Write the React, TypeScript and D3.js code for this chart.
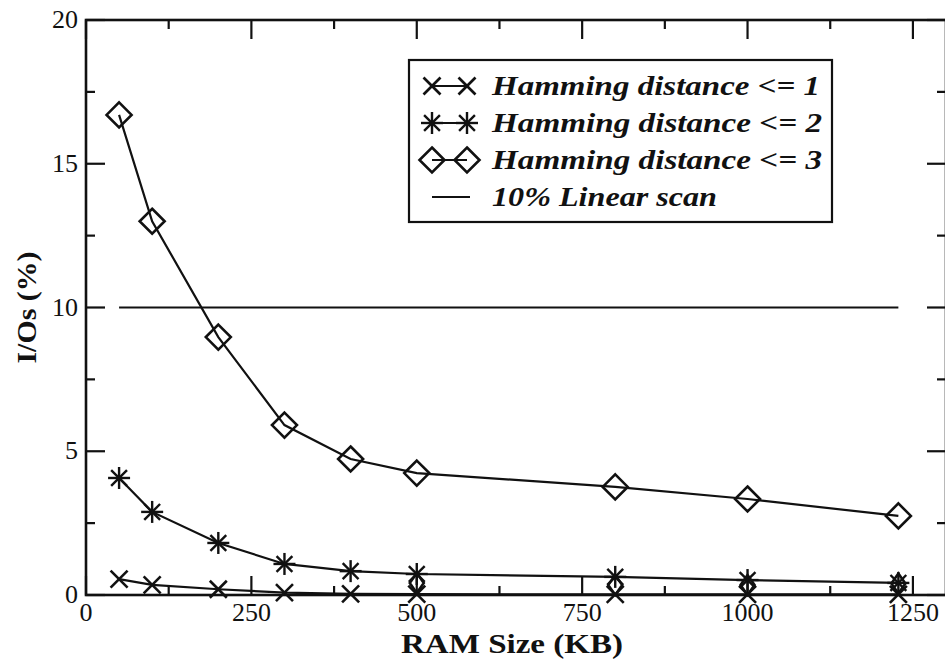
import * as d3 from 'd3';

// RAM size in KB for every measurement
const ramSizes = [50, 100, 200, 300, 400, 500, 800, 1000, 1228];
const hamming1 = [0.55, 0.35, 0.2, 0.08, 0.04, 0.03, 0.02, 0.02, 0.02];
const hamming2 = [4.07, 2.89, 1.81, 1.08, 0.83, 0.73, 0.63, 0.52, 0.42];
const hamming3 = [16.7, 13.0, 8.97, 5.91, 4.73, 4.24, 3.76, 3.34, 2.75];
// the reference line, drawn over the measured range
const scanRange = [50, 1228];
const scanValue = 10;
// stray small diamonds that show near the bottom of the print
const strayX = [500, 800, 1000, 1228];
const strayY = [0.42, 0.35, 0.35, 0.4];

const xMajor = [0, 250, 500, 750, 1000, 1250];
const xMinor = [125, 375, 625, 875, 1125];
const yMajor = [0, 5, 10, 15, 20];
const yMinor = [2.5, 7.5, 12.5, 17.5];

const legendLabels = [
  'Hamming distance <= 1',
  'Hamming distance <= 2',
  'Hamming distance <= 3',
  '10% Linear scan',
];
const legendWidths = [328, 330, 330, 225];

const W = 945;
const H = 660;
const left = 86;
const right = 946;
const top = 20;
const bottom = 595;
const font = 'Liberation Serif';
const ink = '#111';

function XMark({ x, y, r = 8.5 }: { x: number; y: number; r?: number }) {
  return (
    <g stroke={ink} strokeWidth={2.6} fill="none">
      <line x1={x - r} y1={y - r} x2={x + r} y2={y + r} />
      <line x1={x - r} y1={y + r} x2={x + r} y2={y - r} />
    </g>
  );
}

function Star({ x, y, r = 11 }: { x: number; y: number; r?: number }) {
  const d = r * 0.72;
  return (
    <g stroke={ink} strokeWidth={2.4} fill="none">
      <line x1={x} y1={y - r} x2={x} y2={y + r} />
      <line x1={x - r} y1={y} x2={x + r} y2={y} />
      <line x1={x - d} y1={y - d} x2={x + d} y2={y + d} />
      <line x1={x - d} y1={y + d} x2={x + d} y2={y - d} />
    </g>
  );
}

function Diamond({ x, y, rx = 12.5, ry = 12.5 }: { x: number; y: number; rx?: number; ry?: number }) {
  return (
    <path
      d={`M${x},${y - ry}L${x + rx},${y}L${x},${y + ry}L${x - rx},${y}Z`}
      stroke={ink}
      strokeWidth={2.6}
      fill="none"
    />
  );
}

export default function App() {
  const x = d3.scaleLinear().domain([0, 1300]).range([left, right]);
  const y = d3.scaleLinear().domain([0, 20]).range([bottom, top]);

  const line = d3
    .line<[number, number]>()
    .x(d => x(d[0]))
    .y(d => y(d[1]));

  const series = [hamming1, hamming2, hamming3].map(vals =>
    ramSizes.map((r, i) => [r, vals[i]] as [number, number])
  );

  // legend layout
  const lgX = 409;
  const lgY = 60;
  const lgW = 423;
  const lgH = 162;
  const rowBase = [95, 132, 169, 206];
  const sym1 = 432;
  const sym2 = 467;
  const textX = 492;

  return (
    <svg width={W} height={H} style={{ position: 'absolute', left: 0, top: 0, background: '#fff' }}>
      <rect width={W} height={H} fill="#fff" />

      {/* frame */}
      <rect
        x={left}
        y={top}
        width={right - left}
        height={bottom - top}
        fill="none"
        stroke={ink}
        strokeWidth={2.6}
      />

      {/* ticks, all pointing into the plot */}
      <g stroke={ink} strokeWidth={2.2}>
        {xMajor.map(v => (
          <g key={'xM' + v}>
            <line x1={x(v)} x2={x(v)} y1={bottom} y2={bottom - 19} />
            <line x1={x(v)} x2={x(v)} y1={top} y2={top + 19} />
          </g>
        ))}
        {xMinor.map(v => (
          <g key={'xm' + v}>
            <line x1={x(v)} x2={x(v)} y1={bottom} y2={bottom - 9} />
            <line x1={x(v)} x2={x(v)} y1={top} y2={top + 9} />
          </g>
        ))}
        {yMajor.map(v => (
          <g key={'yM' + v}>
            <line x1={left} x2={left + 19} y1={y(v)} y2={y(v)} />
            <line x1={right} x2={right - 19} y1={y(v)} y2={y(v)} />
          </g>
        ))}
        {yMinor.map(v => (
          <g key={'ym' + v}>
            <line x1={left} x2={left + 9} y1={y(v)} y2={y(v)} />
            <line x1={right} x2={right - 9} y1={y(v)} y2={y(v)} />
          </g>
        ))}
      </g>

      {/* tick labels */}
      {xMajor.map(v => (
        <text
          key={'xl' + v}
          x={x(v)}
          y={621}
          textAnchor="middle"
          fill={ink}
          style={{ fontFamily: font, fontSize: 26 }}
        >
          {v}
        </text>
      ))}
      {yMajor.map(v => (
        <text
          key={'yl' + v}
          x={78}
          y={y(v) + 8}
          textAnchor="end"
          fill={ink}
          style={{ fontFamily: font, fontSize: 26 }}
        >
          {v}
        </text>
      ))}

      {/* axis titles */}
      <text
        x={(left + right) / 2 - 4}
        y={653}
        textAnchor="middle"
        fill={ink}
        style={{ fontFamily: font, fontSize: 28, fontWeight: 'bold' }}
        textLength={222}
        lengthAdjust="spacingAndGlyphs"
      >
        RAM Size (KB)
      </text>
      <text
        transform={`translate(36,${(top + bottom) / 2}) rotate(-90)`}
        textAnchor="middle"
        fill={ink}
        style={{ fontFamily: font, fontSize: 28, fontWeight: 'bold' }}
        textLength={112}
        lengthAdjust="spacingAndGlyphs"
      >
        I/Os (%)
      </text>

      {/* 10% linear scan */}
      <line
        x1={x(scanRange[0])}
        x2={x(scanRange[1])}
        y1={y(scanValue)}
        y2={y(scanValue)}
        stroke={ink}
        strokeWidth={2}
      />

      {/* series lines */}
      {series.map((s, i) => (
        <path key={'s' + i} d={line(s) ?? ''} fill="none" stroke={ink} strokeWidth={2.2} />
      ))}

      {/* markers */}
      {series[0].map(([a, b], i) => (
        <XMark key={'m1' + i} x={x(a)} y={y(b)} />
      ))}
      {series[1].map(([a, b], i) => (
        <Star key={'m2' + i} x={x(a)} y={y(b)} />
      ))}
      {series[2].map(([a, b], i) => (
        <Diamond key={'m3' + i} x={x(a)} y={y(b)} />
      ))}
      {strayX.map((a, i) => (
        <Diamond key={'st' + i} x={x(a)} y={y(strayY[i])} rx={7} ry={10} />
      ))}

      {/* legend */}
      <rect x={lgX} y={lgY} width={lgW} height={lgH} fill="#fff" stroke={ink} strokeWidth={2.2} />
      {legendLabels.map((lab, i) => {
        const cy = rowBase[i] - 9;
        return (
          <g key={'lg' + i}>
            <line
              x1={sym1}
              x2={i < 3 ? sym2 : sym2 + 3}
              y1={cy}
              y2={cy}
              stroke={ink}
              strokeWidth={2}
            />
            {i === 0 && (
              <>
                <XMark x={sym1} y={cy} />
                <XMark x={sym2} y={cy} />
              </>
            )}
            {i === 1 && (
              <>
                <Star x={sym1} y={cy} />
                <Star x={sym2} y={cy} />
              </>
            )}
            {i === 2 && (
              <>
                <Diamond x={sym1} y={cy} />
                <Diamond x={sym2} y={cy} />
              </>
            )}
            <text
              x={textX}
              y={rowBase[i]}
              fill={ink}
              style={{ fontFamily: font, fontSize: 28, fontStyle: 'italic', fontWeight: 'bold' }}
              textLength={legendWidths[i]}
              lengthAdjust="spacingAndGlyphs"
            >
              {lab}
            </text>
          </g>
        );
      })}
    </svg>
  );
}
